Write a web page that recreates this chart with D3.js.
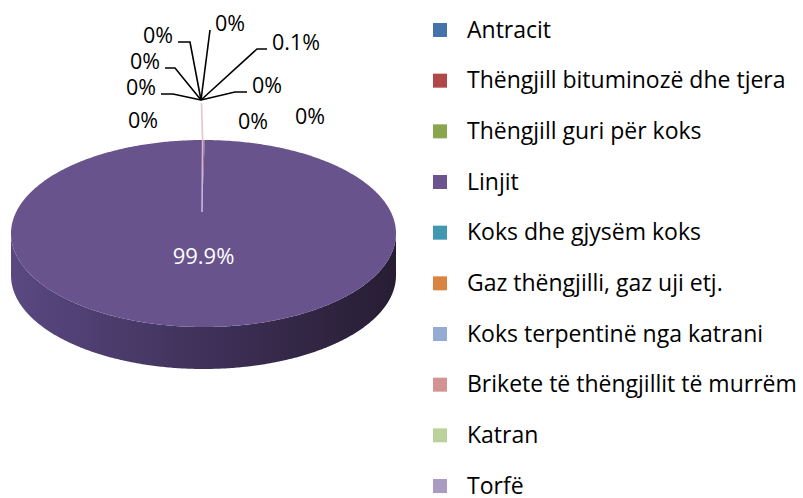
<!DOCTYPE html>
<html>
<head>
<meta charset="utf-8">
<script src="https://cdn.jsdelivr.net/npm/d3@7"></script>
<style>
  body { margin: 0; background: #fff; }
  text { font-family: "Open Sans", sans-serif; }
</style>
</head>
<body>
<script>
// data
const categories = [
  'Antracit',
  'Thëngjill bituminozë dhe tjera',
  'Thëngjill guri për koks',
  'Linjit',
  'Koks dhe gjysëm koks',
  'Gaz thëngjilli, gaz uji etj.',
  'Koks terpentinë nga katrani',
  'Brikete të thëngjillit të murrëm',
  'Katran',
  'Torfë'
];
const shares = [0, 0.1, 0, 99.9, 0, 0, 0, 0, 0, 0];
const colors = ['#4672ab', '#b0484a', '#89a54e', '#6b5490', '#4398b1',
                '#db8340', '#94abd3', '#d49393', '#bcd29c', '#aa9bc2'];

// label layout for the small slices: offset from hub, anchor side, elbow length
const labelLayout = [
  {dx: 14, dy: -69, side: 'start', elbow: 0},
  {dx: 71, dy: -50, side: 'start', elbow: 10},
  {dx: 51, dy: -7, side: 'start', elbow: 12},
  null,
  {dx: 94, dy: 24, side: 'start', elbow: -1},
  {dx: 37, dy: 29, side: 'start', elbow: -1},
  {dx: -43, dy: 28, side: 'end', elbow: -1},
  {dx: -45, dy: -5, side: 'end', elbow: 12},
  {dx: -41, dy: -31, side: 'end', elbow: 10},
  {dx: -28, dy: -57, side: 'end', elbow: 12}
];

const W = 803, H = 498;
const cx = 203.5, cy = 233.5, rx = 192.5, ry = 93.5, depth = 42;
const apex = [cx - 1.5, 212];      // top face centre (perspective)
const hub = [cx - 2.5, 100];       // where the leader lines meet

const svg = d3.select('body').append('svg')
  .attr('width', W).attr('height', H);

const defs = svg.append('defs');
const grad = defs.append('linearGradient').attr('id', 'side')
  .attr('gradientUnits', 'userSpaceOnUse')
  .attr('x1', cx - rx).attr('x2', cx + rx).attr('y1', 0).attr('y2', 0);
grad.append('stop').attr('offset', '0%').attr('stop-color', '#5a4882');
grad.append('stop').attr('offset', '50%').attr('stop-color', '#3f3159');
grad.append('stop').attr('offset', '100%').attr('stop-color', '#271d33');

const pie = d3.pie().sort(null).value(d => d)(shares);

function rim(a, dy) {
  return [cx + rx * Math.sin(a), cy - ry * Math.cos(a) + (dy || 0)];
}
function arcPoints(a0, a1, dy) {
  const n = Math.max(2, Math.ceil((a1 - a0) / 0.01));
  return d3.range(n + 1).map(i => rim(a0 + (a1 - a0) * i / n, dy));
}

const line = d3.line();
const slices = pie.filter(p => p.endAngle - p.startAngle > 0.001);

// side walls (front half only)
svg.append('g').selectAll('path')
  .data(slices)
  .join('path')
  .attr('d', p => {
    const a0 = Math.max(p.startAngle, Math.PI / 2);
    const a1 = Math.min(p.endAngle, Math.PI * 1.5);
    if (a1 <= a0) return null;
    const top = arcPoints(a0, a1, 0);
    const bottom = arcPoints(a0, a1, depth).reverse();
    return line(top.concat(bottom)) + 'Z';
  })
  .attr('fill', 'url(#side)');

// top faces
svg.append('g').selectAll('path')
  .data(slices)
  .join('path')
  .attr('d', p => line([apex].concat(arcPoints(p.startAngle, p.endAngle, 0))) + 'Z')
  .attr('fill', p => d3.color(colors[p.index]).darker(0.05));

// thin slice seen edge-on
const thin = pie[1];
const tipA = (thin.startAngle + thin.endAngle) / 2;
const rimTop = rim(tipA, 0);
svg.append('line')
  .attr('x1', apex[0]).attr('y1', apex[1])
  .attr('x2', rimTop[0] - 1.5).attr('y2', rimTop[1])
  .attr('stroke', '#c9b4dc').attr('stroke-width', 1.6);
svg.append('line')
  .attr('x1', rimTop[0] - 1.5).attr('y1', rimTop[1])
  .attr('x2', hub[0] + 0.5).attr('y2', hub[1] + 3)
  .attr('stroke', '#e6c4c9').attr('stroke-width', 1.6);

const fmt = v => (v === 0 ? '0' : d3.format('.1f')(v)) + '%';

// big slice label
const big = pie[3];
svg.append('text')
  .attr('x', cx).attr('y', 264)
  .attr('text-anchor', 'middle')
  .attr('font-size', 22)
  .attr('fill', '#fff')
  .text(fmt(big.data));

// small slice labels + leader lines
const small = pie.filter((p, i) => labelLayout[i]);
const lg = svg.append('g');
small.forEach(p => {
  const L = labelLayout[p.index];
  const x = hub[0] + L.dx, y = hub[1] + L.dy;
  lg.append('text')
    .attr('x', x).attr('y', y)
    .attr('text-anchor', L.side)
    .attr('font-size', 21.5)
    .attr('fill', '#000')
    .text(fmt(p.data));
  if (L.elbow < 0) return;
  const s = L.side === 'start' ? 1 : -1;
  const x0 = x - s * 5, y0 = y - 1;
  const pts = [[x0, y0], [x0 - s * L.elbow, y0], hub];
  lg.append('path')
    .attr('d', line(pts))
    .attr('fill', 'none')
    .attr('stroke', '#000')
    .attr('stroke-width', 1.6);
});

// legend
const ly = d3.scalePoint().domain(categories).range([30, 486]);
const leg = svg.append('g').selectAll('g')
  .data(categories)
  .join('g')
  .attr('transform', d => `translate(433,${ly(d)})`);
leg.append('rect')
  .attr('x', 0).attr('y', -7).attr('width', 14).attr('height', 14)
  .attr('fill', (d, i) => colors[i]);
leg.append('text')
  .attr('x', 34).attr('y', 7.5)
  .attr('font-size', 23)
  .attr('fill', '#000')
  .text(d => d);
</script>
</body>
</html>
